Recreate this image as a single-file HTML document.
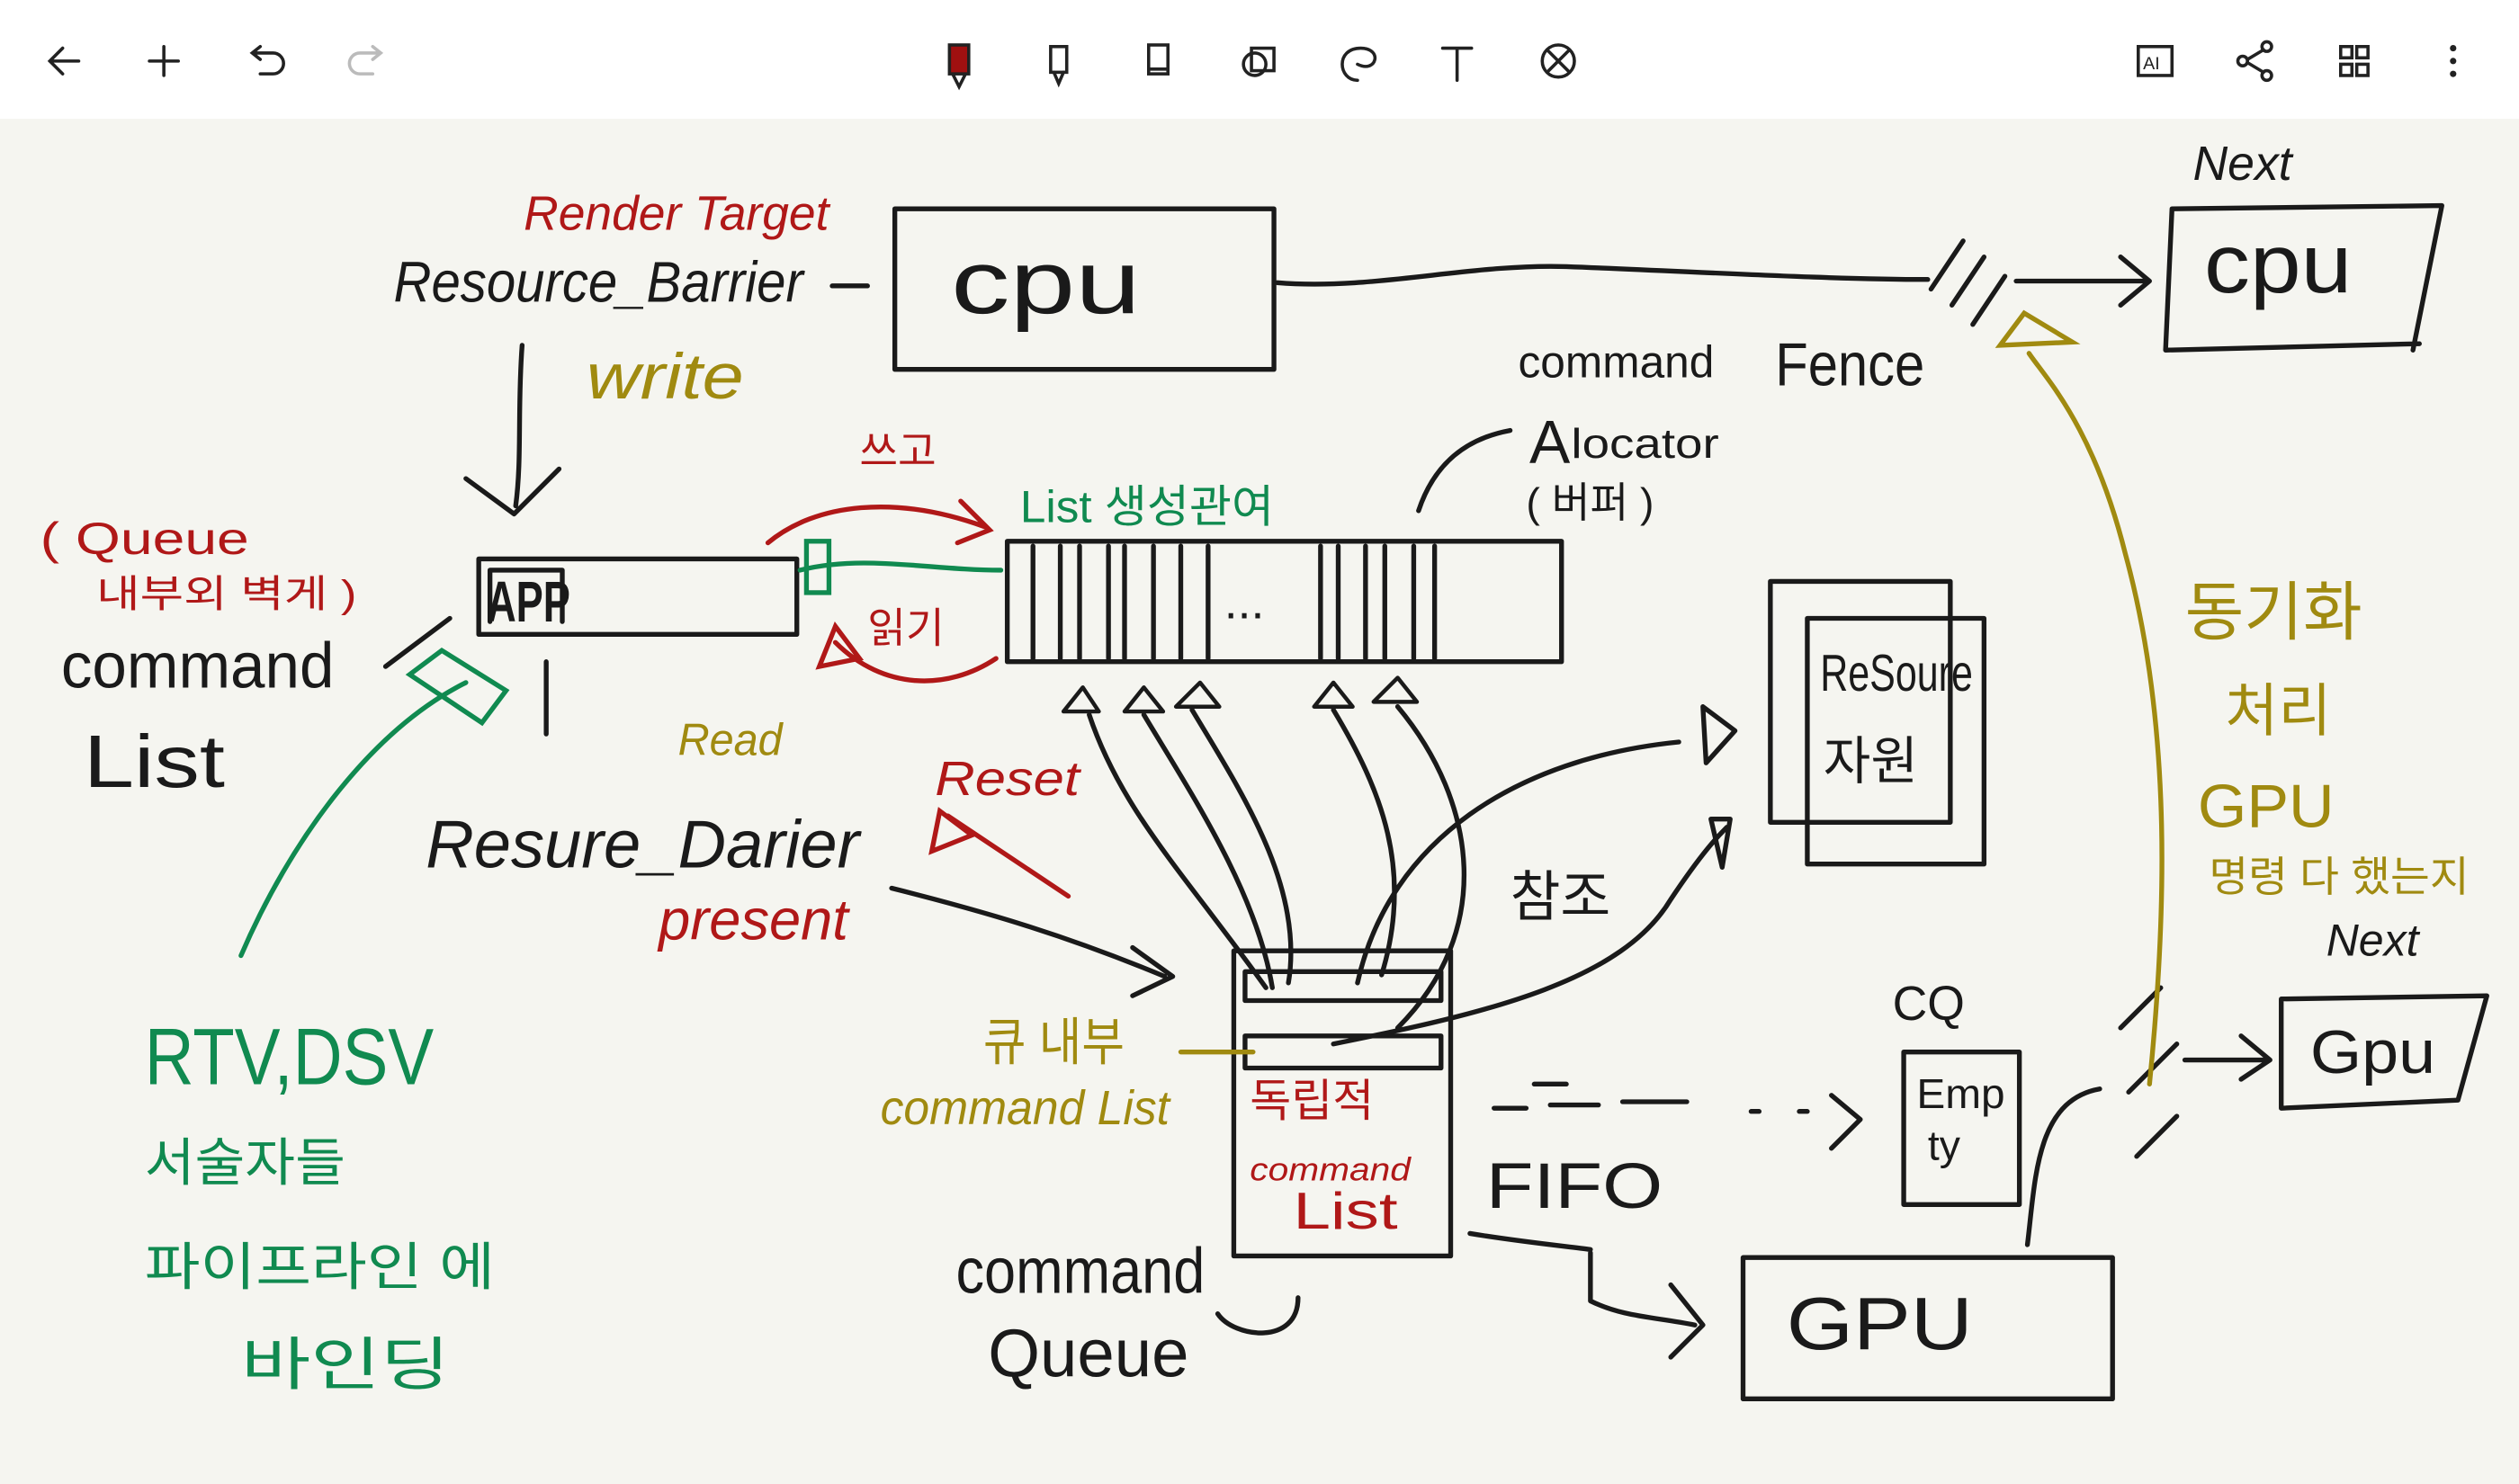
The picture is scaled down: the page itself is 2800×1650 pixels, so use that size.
<!DOCTYPE html>
<html><head><meta charset="utf-8"><style>
html,body{margin:0;padding:0;background:#f5f5f0;}
svg{display:block;}
text{font-family:"Liberation Sans","Noto Sans CJK KR",sans-serif;}
</style></head><body>
<svg width="2800" height="1650" viewBox="0 0 1568 924" xmlns="http://www.w3.org/2000/svg">
<rect width="1568" height="924" fill="#f5f5f0"/>
<rect width="1568" height="74" fill="#ffffff"/>
<g stroke="#222" stroke-width="2" fill="none" stroke-linecap="round">
<path d="M49 38H31M39 30l-8 8 8 8"/>
<path d="M102 29v18M93 38h18"/>
<path d="M158 33h12a6 6 0 0 1 0 13h-8M162 29l-5 4 5 4"/>
<path d="M236 33h-12a6 6 0 0 0 0 13h8M232 29l5 4-5 4" stroke="#bbb"/>
<rect x="654" y="29" width="10" height="16"/><path d="M656 45l3 7 3-7"/>
<rect x="715" y="28" width="12" height="18"/><path d="M715 43h12"/>
<rect x="779" y="30" width="14" height="14"/><circle cx="781" cy="40" r="7"/>
<path d="M845 50c-12 0-14-20 2-20 14 0 10 16-2 10"/>
<path d="M898 30h18M907 30v20"/>
<circle cx="970" cy="38" r="10"/><path d="M964 32l12 12M976 32l-12 12"/>
<rect x="1331" y="29" width="21" height="18"/>
<circle cx="1411" cy="29" r="3"/><circle cx="1396" cy="38" r="3"/><circle cx="1411" cy="47" r="3"/><path d="M1399 37l10-6M1399 39l10 6"/>
<rect x="1457" y="29" width="7" height="7"/><rect x="1467" y="29" width="7" height="7"/><rect x="1457" y="40" width="7" height="7"/><rect x="1467" y="40" width="7" height="7"/>
</g>
<text x="1334" y="43" font-size="11" fill="#222">AI</text>
<rect x="591" y="28" width="12" height="18" fill="#a01010" stroke="#222" stroke-width="2"/>
<path d="M593 46l4 8 4-8" fill="none" stroke="#222" stroke-width="2"/>
<circle cx="1527" cy="30" r="2" fill="#222"/><circle cx="1527" cy="38" r="2" fill="#222"/><circle cx="1527" cy="46" r="2" fill="#222"/>

<g stroke="#1a1a1a" stroke-width="3" fill="none" stroke-linecap="round" stroke-linejoin="round">
<rect x="557" y="130" width="236" height="100"/>
<path d="M795 176c60 5 120-12 180-10 80 3 160 8 225 8"/>
<path d="M1202 180l20-30M1215 190l20-30M1228 202l20-30"/>
<path d="M1255 175h80M1320 160l18 15-18 15"/>
<path d="M1352 130l168-2-18 90M1352 130l-4 88 158-4"/>
<path d="M325 215c-3 40 0 70-4 100M290 298l30 22 28-28"/>
<path d="M518 178h22"/>
<rect x="298" y="348" width="198" height="47"/>
<path d="M305 355v32M305 355h45v32"/>
<path d="M240 415l40-30M340 412v45"/>
<rect x="627" y="337" width="345" height="75"/>
<path d="M643 340v70M660 340v70M672 340v70M690 340v70M700 340v70M718 340v70M735 340v70M752 340v70M822 340v70M833 340v70M850 340v70M862 340v70M880 340v70M893 340v70"/>
<path d="M883 318c10-30 30-45 57-50"/>
<path d="M662 443l12-15 10 15zM700 443l12-15 12 15zM732 440l15-15 12 15zM818 440l12-15 12 15zM855 437l15-15 12 15z" stroke-width="2.5"/>
<path d="M678 445c20 60 60 100 110 170M712 445c30 50 70 110 80 170M742 442c30 50 70 110 60 170M830 442c30 50 50 100 30 165M870 440c50 60 60 140 0 200"/>
<rect x="768" y="592" width="135" height="190"/>
<rect x="775" y="605" width="122" height="18"/>
<rect x="775" y="645" width="122" height="20"/>
<path d="M845 612c20-90 100-140 200-150M1060 440l20 15-18 20zM830 650c100-20 180-40 210-90 20-30 30-40 35-45M1065 510l12 0-5 30z"/>
<path d="M758 818c10 15 50 20 50-10"/>
<path d="M555 553c60 15 110 30 170 55M705 590l25 18-25 12"/>
<rect x="1102" y="362" width="112" height="150"/>
<rect x="1125" y="385" width="110" height="153"/>
<rect x="1185" y="655" width="72" height="95"/>
<path d="M1262 775c5-40 5-90 45-97"/>
<path d="M930 690h20M965 688h30M1010 686h40M955 675h20M1090 692h5M1120 692h5M1140 682l18 15-18 18"/>
<path d="M915 768c30 5 60 8 75 10M990 780v30c20 10 40 10 65 15M1040 800l20 25-20 20"/>
<rect x="1085" y="783" width="230" height="88"/>
<path d="M1320 640l25-25M1325 680l30-30M1330 720l25-25"/>
<path d="M1360 660h50M1395 645l18 15-18 12"/>
<path d="M1420 622l128-2-18 65-110 5z"/>
</g>
<g fill="#1a1a1a">
<text x="592" y="195" font-size="56" textLength="118" lengthAdjust="spacingAndGlyphs">cpu</text>
<text x="1372" y="182" font-size="52" textLength="92" lengthAdjust="spacingAndGlyphs">cpu</text>
<text x="1365" y="112" font-size="30" font-style="italic">Next</text>
<text x="245" y="188" font-size="36" font-style="italic" textLength="255" lengthAdjust="spacingAndGlyphs">Resource_Barrier</text>
<text x="1105" y="240" font-size="38" textLength="93" lengthAdjust="spacingAndGlyphs">Fence</text>
<text x="945" y="235" font-size="28" textLength="122" lengthAdjust="spacingAndGlyphs">command</text>
<text x="952" y="288" font-size="38">A</text><text x="978" y="285" font-size="26" textLength="92" lengthAdjust="spacingAndGlyphs">locator</text>
<text x="950" y="322" font-size="26">( 버퍼 )</text>
<text x="38" y="428" font-size="40" textLength="170" lengthAdjust="spacingAndGlyphs">command</text>
<text x="52" y="490" font-size="46" textLength="88" lengthAdjust="spacingAndGlyphs">List</text>
<text x="762" y="385" font-size="30">...</text>
<text x="265" y="540" font-size="42" font-style="italic" textLength="270" lengthAdjust="spacingAndGlyphs">Resure_Darier</text>
<text x="940" y="570" font-size="34">참조</text>
<text x="1133" y="430" font-size="32" textLength="95" lengthAdjust="spacingAndGlyphs">ReSoure</text>
<text x="1135" y="485" font-size="32">자원</text>
<text x="1178" y="635" font-size="30">CQ</text>
<text x="1193" y="690" font-size="26" textLength="55" lengthAdjust="spacingAndGlyphs">Emp</text>
<text x="1200" y="722" font-size="26">ty</text>
<text x="925" y="752" font-size="40" textLength="110" lengthAdjust="spacingAndGlyphs">FIFO</text>
<text x="1112" y="840" font-size="46" textLength="116" lengthAdjust="spacingAndGlyphs">GPU</text>
<text x="1438" y="668" font-size="38" textLength="78" lengthAdjust="spacingAndGlyphs">Gpu</text>
<text x="1448" y="595" font-size="28" font-style="italic">Next</text>
<text x="595" y="805" font-size="40" textLength="155" lengthAdjust="spacingAndGlyphs">command</text>
<text x="615" y="857" font-size="42" textLength="125" lengthAdjust="spacingAndGlyphs">Queue</text>
<text x="303" y="387" font-size="36" font-weight="bold" textLength="52" lengthAdjust="spacingAndGlyphs">APP</text>
</g>
<g fill="#b01818">
<text x="326" y="143" font-size="30" font-style="italic" textLength="190" lengthAdjust="spacingAndGlyphs">Render Target</text>
<text x="25" y="345" font-size="28" textLength="130" lengthAdjust="spacingAndGlyphs">( Queue</text>
<text x="60" y="378" font-size="24" textLength="162" lengthAdjust="spacingAndGlyphs">내부외 벽게 )</text>
<text x="535" y="290" font-size="26">쓰고</text>
<text x="540" y="400" font-size="26">읽기</text>
<text x="582" y="495" font-size="30" font-style="italic" textLength="90" lengthAdjust="spacingAndGlyphs">Reset</text>
<text x="410" y="585" font-size="36" font-style="italic" textLength="118" lengthAdjust="spacingAndGlyphs">present</text>
<text x="778" y="695" font-size="28">독립적</text>
<text x="778" y="735" font-size="20" font-style="italic" textLength="100" lengthAdjust="spacingAndGlyphs">command</text>
<text x="805" y="765" font-size="32" textLength="65" lengthAdjust="spacingAndGlyphs">List</text>
</g>
<g stroke="#b01818" stroke-width="3" fill="none" stroke-linecap="round">
<path d="M478 338c30-25 80-30 135-10M598 312l18 18-20 8"/>
<path d="M620 410c-30 20-70 20-100-10M510 415l10-25 15 20z"/>
<path d="M665 558l-75-50M580 530l5-25 20 15z"/>
</g>
<g fill="#a08a10">
<text x="365" y="248" font-size="40" font-style="italic" textLength="98" lengthAdjust="spacingAndGlyphs">write</text>
<text x="422" y="470" font-size="28" font-style="italic" textLength="65" lengthAdjust="spacingAndGlyphs">Read</text>
<text x="1360" y="395" font-size="40">동기화</text>
<text x="1385" y="455" font-size="36">처리</text>
<text x="1368" y="515" font-size="38" textLength="85" lengthAdjust="spacingAndGlyphs">GPU</text>
<text x="1375" y="555" font-size="26" textLength="162" lengthAdjust="spacingAndGlyphs">명령 다 했는지</text>
<text x="612" y="660" font-size="32" textLength="88" lengthAdjust="spacingAndGlyphs">큐 내부</text>
<text x="548" y="700" font-size="30" font-style="italic" textLength="180" lengthAdjust="spacingAndGlyphs">command List</text>
</g>
<g stroke="#a08a10" stroke-width="3" fill="none" stroke-linecap="round">
<path d="M1338 675c10-100 15-220-15-330-20-80-50-110-60-125M1245 215l15-20 30 18z"/>
<path d="M735 655h45"/>
</g>
<g fill="#108a50">
<text x="635" y="325" font-size="28" textLength="158" lengthAdjust="spacingAndGlyphs">List 생성관여</text>
<text x="90" y="675" font-size="50" textLength="180" lengthAdjust="spacingAndGlyphs">RTV,DSV</text>
<text x="90" y="735" font-size="32" textLength="125" lengthAdjust="spacingAndGlyphs">서술자들</text>
<text x="90" y="800" font-size="32" textLength="218" lengthAdjust="spacingAndGlyphs">파이프라인 에</text>
<text x="150" y="862" font-size="36" textLength="130" lengthAdjust="spacingAndGlyphs">바인딩</text>
</g>
<g stroke="#108a50" stroke-width="3" fill="none" stroke-linecap="round">
<path d="M498 355c40-10 80 0 125 0"/>
<rect x="502" y="337" width="14" height="32"/>
<path d="M150 595c30-70 80-140 140-170"/>
<path d="M255 420l20-15 40 25-15 20z"/>
</g>
</svg>
</body></html>
